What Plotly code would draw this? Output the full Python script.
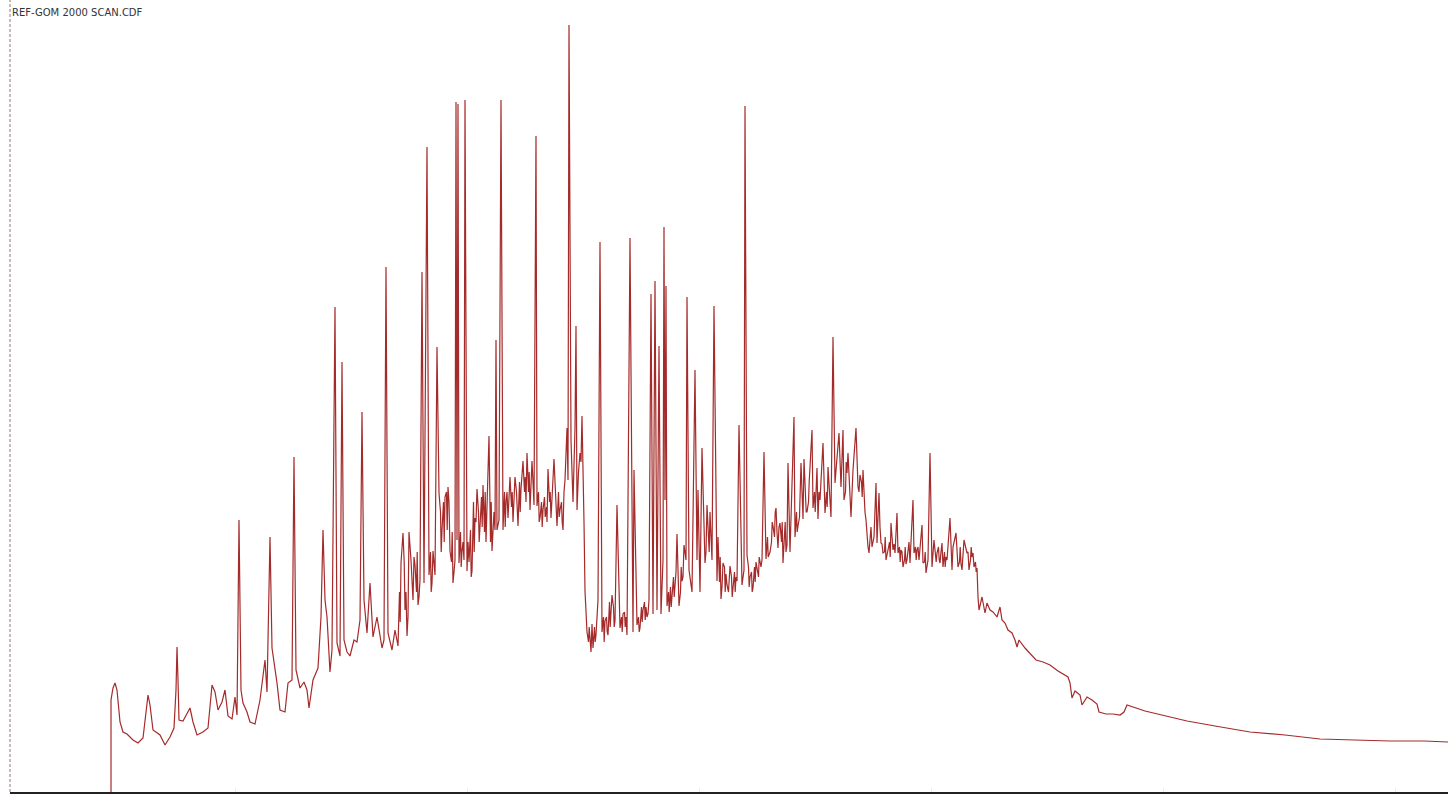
import plotly.graph_objects as go

# Chromatogram "REF-GOM 2000 SCAN.CDF"
# scan number (x) and abundance (arbitrary units, y): main peaks and baseline
scan = [
    111, 111, 113, 115, 117, 120, 123, 127, 133, 138, 143, 146, 148, 150, 153, 160, 165, 170, 174, 176,
    177, 178, 179, 183, 187, 190, 193, 197, 203, 208, 212, 215, 218, 222, 225, 228, 232, 235, 237, 239,
    241, 243, 247, 250, 255, 260, 265, 267, 270, 272, 277, 280, 285, 288, 292, 294, 296, 300, 304, 307,
    309, 313, 318, 321, 323, 325, 327, 330, 332, 335, 337, 340, 342, 344, 347, 350, 354, 357, 360, 362,
    364, 367, 370, 373, 377, 382, 384, 386, 388, 392, 395, 398, 401, 403, 405, 407, 409, 411, 413, 415,
    418, 420, 422, 424, 427, 429, 432, 433, 435, 437, 439, 442, 445, 448, 450, 453, 455, 456, 457, 458,
    459, 462, 464, 465, 467, 468, 472, 475, 477, 480, 483, 486, 489, 492, 493, 495, 496, 497, 499, 501,
    503, 506, 508, 510, 513, 515, 518, 521, 523, 526, 527, 530, 532, 534, 536, 537, 540, 543, 547, 548,
    551, 554, 557, 560, 563, 565, 567, 568, 569, 571, 573, 575, 576, 577, 580, 582, 584, 585, 587, 590,
    592, 593, 596, 598, 600, 602, 605, 608, 612, 615, 617, 620, 623, 627, 630, 633, 634, 637, 640, 643,
    647, 649, 651, 653, 655, 657, 659, 661, 663, 664, 665, 666, 667, 672, 675, 677, 679, 682, 684, 686,
    687, 689, 692, 693, 695, 697, 698, 700, 702, 705, 707, 710, 712, 714, 717, 718, 721, 723, 727, 730,
    733, 737, 739, 742, 744, 745, 747, 750, 753, 757, 760, 762, 764, 766, 770, 773, 776, 778, 780, 783,
    787, 788, 790, 794, 795, 798, 801, 803, 804, 807, 812, 813, 817, 818, 820, 823, 825, 828, 831, 833,
    835, 839, 841, 843, 844, 847, 848, 851, 853, 856, 858, 860, 863, 864, 866, 867, 869, 871, 873, 874,
    876, 877, 879, 881, 883, 886, 888, 891, 893, 895, 897, 898, 901, 903, 907, 909, 910, 913, 914, 917,
    919, 922, 923, 926, 928, 930, 932, 934, 937, 940, 942, 943, 947, 950, 952, 953, 956, 958, 962, 964,
    967, 969, 973, 974, 977, 978, 979, 982, 985, 987, 990, 993, 997, 1000, 1002, 1005, 1008, 1012, 1015, 1017,
    1019, 1025, 1030, 1036, 1043, 1050, 1058, 1068, 1070, 1072, 1075, 1080, 1082, 1087, 1092, 1097, 1099, 1106, 1113, 1120,
    1124, 1127, 1145, 1166, 1187, 1215, 1250, 1285, 1320, 1355, 1390, 1424, 1448,
]

abundance = [
    0, 92, 104, 109, 102, 70, 60, 58, 52, 49, 54, 77, 97, 87, 62, 57, 47, 55, 64, 102,
    145, 112, 72, 71, 78, 84, 70, 57, 60, 64, 107, 100, 82, 90, 102, 76, 73, 95, 77, 272,
    102, 89, 80, 70, 68, 92, 132, 100, 255, 144, 109, 82, 80, 109, 112, 335, 122, 104, 110, 102,
    84, 112, 124, 175, 262, 192, 175, 120, 142, 485, 149, 136, 430, 152, 140, 136, 152, 150, 172, 380,
    192, 159, 209, 155, 175, 144, 152, 525, 159, 142, 162, 146, 229, 259, 182, 156, 260, 232, 192, 227,
    187, 212, 520, 209, 645, 217, 209, 241, 217, 445, 299, 262, 295, 305, 241, 209, 232, 690, 252, 688,
    229, 241, 232, 692, 221, 250, 221, 274, 303, 262, 307, 250, 356, 241, 270, 262, 452, 262, 272, 692,
    262, 290, 274, 315, 270, 315, 266, 303, 331, 290, 339, 282, 331, 287, 656, 286, 274, 282, 270, 323,
    274, 333, 266, 282, 262, 312, 364, 312, 767, 352, 290, 364, 466, 282, 339, 376, 270, 201, 160, 150,
    168, 144, 157, 192, 550, 160, 171, 157, 197, 171, 287, 164, 178, 157, 554, 160, 322, 167, 164, 182,
    175, 192, 498, 178, 511, 182, 446, 178, 232, 565, 292, 506, 186, 193, 211, 258, 186, 211, 247, 232,
    495, 222, 200, 266, 422, 232, 302, 200, 344, 229, 287, 280, 232, 486, 211, 255, 193, 229, 207, 226,
    204, 211, 367, 207, 222, 686, 237, 215, 204, 222, 229, 232, 340, 233, 240, 266, 284, 244, 269, 229,
    247, 329, 240, 375, 255, 266, 329, 273, 333, 280, 362, 284, 324, 273, 292, 349, 279, 325, 275, 455,
    309, 359, 305, 362, 292, 319, 339, 275, 322, 364, 305, 317, 322, 292, 272, 255, 239, 265, 252, 255,
    309, 249, 299, 249, 239, 232, 242, 269, 242, 239, 279, 239, 242, 225, 232, 250, 229, 292, 239, 242,
    232, 267, 229, 219, 232, 339, 225, 252, 239, 229, 249, 225, 232, 274, 222, 245, 259, 225, 222, 252,
    239, 222, 239, 225, 224, 195, 182, 195, 179, 189, 182, 180, 175, 185, 172, 169, 162, 159, 152, 145,
    152, 144, 139, 132, 130, 127, 121, 115, 109, 94, 101, 97, 87, 95, 92, 88, 80, 78, 78, 77,
    80, 87, 81, 76, 71, 66, 60, 57, 53, 52, 51, 51, 50,
]

# finer noise readings of the dense hump regions (same series)
fine_scan = [
    399.5, 400.2, 404.2, 406, 408, 412, 414, 416.5, 417.2, 419, 430.5, 431.2, 434, 440.5, 441.2, 443.5,
    444.2, 446.5, 447.2, 449, 451.5, 452.2, 454, 460.5, 461.2, 463, 469, 470.5, 471.2, 473.5, 474.2, 476,
    478.5, 479.2, 481.5, 482.2, 484.5, 485.2, 490.5, 491.2, 494, 504.5, 505.2, 507, 511.5, 512.2, 516.5,
    517.2, 519.5, 520.2, 524.5, 525.2, 528.5, 529.2, 531, 533, 538.5, 539.2, 541.5, 542.2, 544.5, 545.2,
    546.5, 549.5, 550.2, 555.5, 556.2, 558.5, 559.2, 561.5, 562.2, 564, 578.5, 581, 588.5, 589.2, 591,
    594.5, 595.2, 597, 603.5, 604.2, 606.5, 607.2, 609.5, 610.2, 611, 613.5, 614.2, 621.5, 622.2, 624.5,
    625.2, 626, 638.5, 639.2, 641.5, 642.2, 644.5, 645.2, 646, 648, 668.5, 669.2, 670.5, 671.2, 673.5,
    674.2, 676, 678, 680.5, 681.2, 683, 685, 706, 708.5, 709.2, 711, 719.5, 720.2, 722, 724.5, 725.2, 726,
    728.5, 729.2, 731.5, 732.2, 734.5, 735.2, 736, 748.5, 749.2, 751.5, 752.2, 754.5, 755.2, 756, 758.5,
    759.2, 761, 767.5, 768.2, 771.5, 772.2, 774.5, 775.2, 777, 779, 781.5, 782.2, 784.5, 785.2, 786,
    796.5, 797.2, 799.5, 805.5, 806.2, 808.5, 809.2, 814.5, 815.2, 816, 819, 826.5, 827.2, 829.5, 830.2,
    845.5, 846.2, 852, 859, 861.5, 862.2, 865, 868, 870, 872, 878, 880, 882, 884.5, 885.2, 887, 889.5,
    890.2, 892, 894, 899.5, 900.2, 902, 904.5, 905.2, 906, 908, 915.5, 916.2, 918, 924.5, 925.2, 927,
    935.5, 936.2, 938.5, 939.2, 941, 944.5, 945.2, 946, 959.5, 960.2, 961, 968, 970.5, 971.2, 972, 975.5,
    976.2,
]
fine_abundance = [
    200, 170, 230, 200, 175, 205, 235, 200, 240, 195, 240, 200, 230, 280, 240, 290,
    250, 300, 262, 290, 230, 260, 220, 260, 225, 250, 230, 262, 215, 290, 240, 270,
    280, 250, 295, 265, 260, 300, 250, 290, 280, 300, 265, 300, 285, 300, 300,
    275, 310, 280, 300, 315, 300, 320, 300, 310, 300, 270, 290, 265, 295, 275,
    285, 290, 300, 300, 280, 300, 275, 290, 270, 300, 320, 330, 150, 165, 140,
    165, 150, 175, 175, 150, 175, 160, 190, 165, 180, 185, 165, 175, 160, 180,
    165, 175, 175, 160, 185, 170, 190, 172, 185, 178, 200, 180, 205, 185, 215,
    195, 220, 230, 200, 225, 215, 240, 240, 260, 240, 260, 210, 235, 205, 225, 200, 218,
    200, 220, 215, 195, 220, 200, 215, 225, 205, 220, 200, 225, 210, 230, 215,
    235, 225, 255, 235, 250, 270, 255, 280, 260, 265, 250, 270, 250, 270, 240,
    280, 260, 275, 300, 280, 290, 310, 300, 280, 310, 300, 300, 285, 300, 285,
    300, 330, 300, 300, 310, 295, 280, 245, 255, 245, 275, 265, 248, 240, 255, 240, 250,
    235, 255, 248, 245, 230, 240, 232, 245, 228, 240, 245, 232, 245, 230, 240, 225,
    240, 230, 245, 232, 240, 240, 225, 235, 230, 245, 228, 240, 232, 245, 235, 230,
    220,
]

tick_scans = [235, 467, 699, 931, 1163, 1395]
title_text = "REF-GOM 2000 SCAN.CDF"

# merge both sets of readings in scan order
points = sorted(zip(scan + fine_scan, abundance + fine_abundance), key=lambda p: p[0])
xs = [p[0] for p in points]
ys = [p[1] for p in points]

fig = go.Figure()
fig.add_trace(go.Scatter(
    x=xs, y=ys, mode="lines",
    line=dict(color="#a52a2a", width=1.2),
    hoverinfo="skip", showlegend=False,
))

fig.update_layout(
    width=1448, height=794,
    margin=dict(l=10, r=0, t=0, b=2),
    paper_bgcolor="white", plot_bgcolor="white",
    xaxis=dict(
        range=[10, 1448], showgrid=False, zeroline=False,
        showline=True, linecolor="#222222", linewidth=2,
        tickvals=tick_scans, ticks="inside", ticklen=4, tickcolor="#ececec",
        showticklabels=False, fixedrange=True,
    ),
    yaxis=dict(range=[0, 792], visible=False, fixedrange=True),
    shapes=[dict(
        type="line", xref="paper", yref="paper", x0=0, x1=0, y0=0, y1=1,
        line=dict(color="#9a7575", width=1, dash="3px,2px"),
    )],
    annotations=[dict(
        text=title_text, xref="paper", yref="paper", x=0, y=1,
        xanchor="left", yanchor="top", xshift=0, yshift=-5, showarrow=False,
        font=dict(family="DejaVu Sans", size=10, color="#333333"),
    )],
)

fig.write_html("out.html", config={"displayModeBar": False},
               post_script="document.body.style.margin='0';")
